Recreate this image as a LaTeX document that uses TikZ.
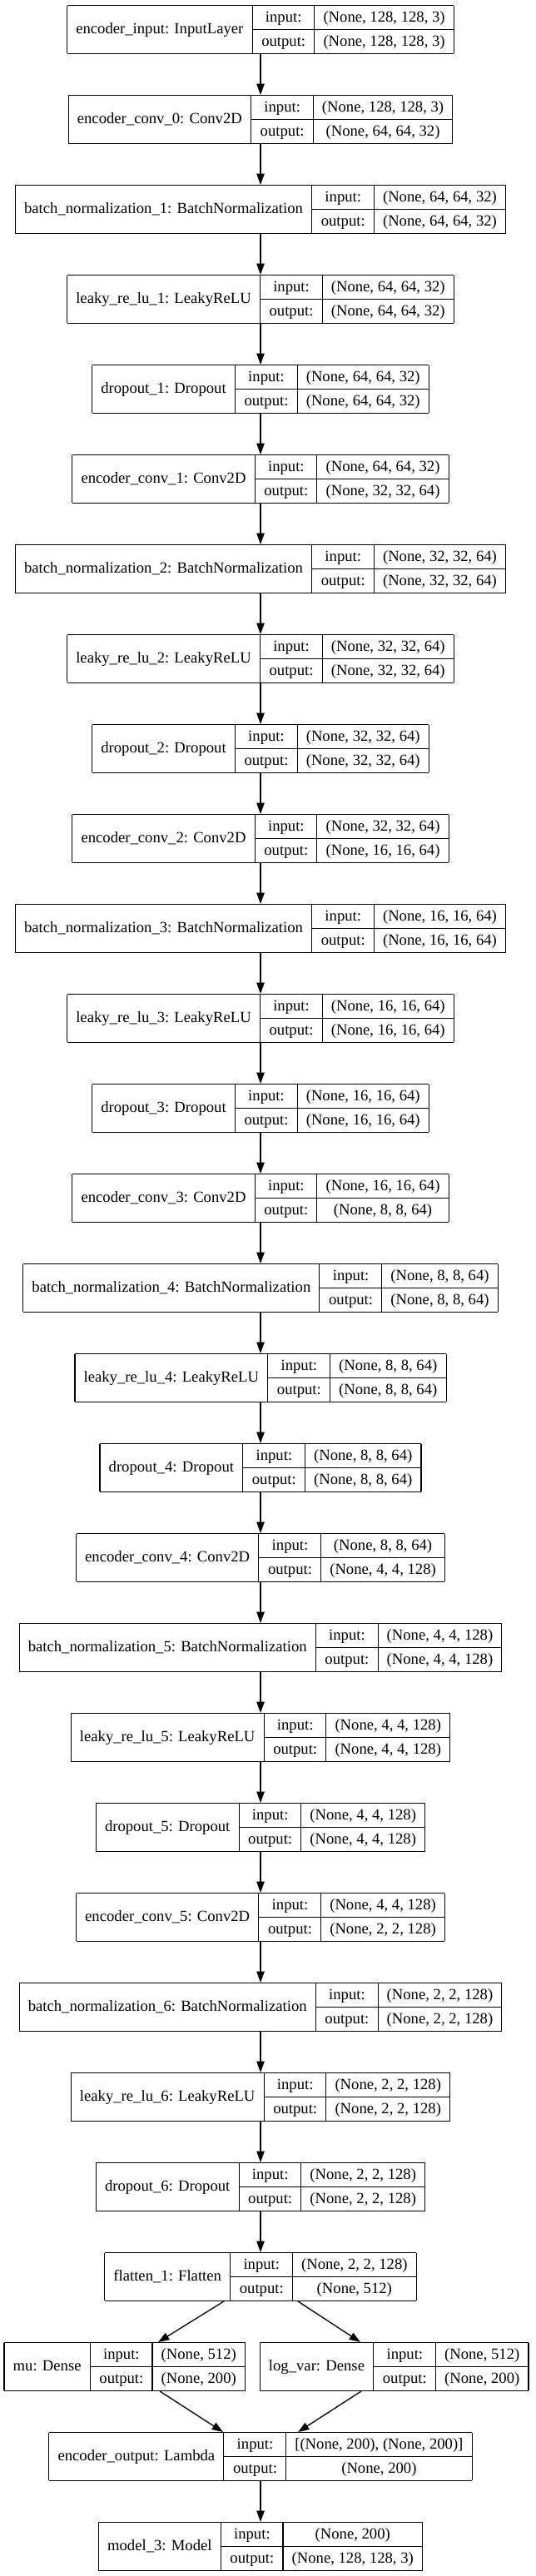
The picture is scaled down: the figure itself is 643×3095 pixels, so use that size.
\documentclass[tikz,border=0pt]{standalone}
\usepackage{fontspec}
\setmainfont{Liberation Serif}
\usetikzlibrary{arrows.meta,calc}
\setlength{\arrayrulewidth}{0.8pt}
\setlength{\tabcolsep}{8pt}
\newcommand{\myrowstrut}{\rule[-6.1pt]{0pt}{20.9pt}}
\newcommand{\recbox}[3]{\begin{tabular}{|c|@{}c@{}|}\hline #1 & \begin{tabular}{c|c}\myrowstrut input: & #2\\\hline\myrowstrut output: & #3\end{tabular}\\\hline\end{tabular}}
\tikzset{
  layer/.style={inner sep=0pt, outer sep=0pt, font=\fontsize{14}{17}\selectfont},
  arr/.style={line width=1pt, -{Triangle[length=10pt,width=7pt]}},
}
\begin{document}
\begin{tikzpicture}[x=0.75pt,y=-0.75pt]
\useasboundingbox[fill=white] (0,0) rectangle (643,3095);
\node[layer,anchor=north] (n0) at (313,6) {\recbox{encoder\_input: InputLayer}{(None, 128, 128, 3)}{(None, 128, 128, 3)}};
\node[layer,anchor=north] (n1) at (313,114) {\recbox{encoder\_conv\_0: Conv2D}{(None, 128, 128, 3)}{(None, 64, 64, 32)}};
\node[layer,anchor=north] (n2) at (313,222) {\recbox{batch\_normalization\_1: BatchNormalization}{(None, 64, 64, 32)}{(None, 64, 64, 32)}};
\node[layer,anchor=north] (n3) at (313,330) {\recbox{leaky\_re\_lu\_1: LeakyReLU}{(None, 64, 64, 32)}{(None, 64, 64, 32)}};
\node[layer,anchor=north] (n4) at (313,438) {\recbox{dropout\_1: Dropout}{(None, 64, 64, 32)}{(None, 64, 64, 32)}};
\node[layer,anchor=north] (n5) at (313,546) {\recbox{encoder\_conv\_1: Conv2D}{(None, 64, 64, 32)}{(None, 32, 32, 64)}};
\node[layer,anchor=north] (n6) at (313,654) {\recbox{batch\_normalization\_2: BatchNormalization}{(None, 32, 32, 64)}{(None, 32, 32, 64)}};
\node[layer,anchor=north] (n7) at (313,762) {\recbox{leaky\_re\_lu\_2: LeakyReLU}{(None, 32, 32, 64)}{(None, 32, 32, 64)}};
\node[layer,anchor=north] (n8) at (313,870) {\recbox{dropout\_2: Dropout}{(None, 32, 32, 64)}{(None, 32, 32, 64)}};
\node[layer,anchor=north] (n9) at (313,978) {\recbox{encoder\_conv\_2: Conv2D}{(None, 32, 32, 64)}{(None, 16, 16, 64)}};
\node[layer,anchor=north] (n10) at (313,1086) {\recbox{batch\_normalization\_3: BatchNormalization}{(None, 16, 16, 64)}{(None, 16, 16, 64)}};
\node[layer,anchor=north] (n11) at (313,1194) {\recbox{leaky\_re\_lu\_3: LeakyReLU}{(None, 16, 16, 64)}{(None, 16, 16, 64)}};
\node[layer,anchor=north] (n12) at (313,1302) {\recbox{dropout\_3: Dropout}{(None, 16, 16, 64)}{(None, 16, 16, 64)}};
\node[layer,anchor=north] (n13) at (313,1410) {\recbox{encoder\_conv\_3: Conv2D}{(None, 16, 16, 64)}{(None, 8, 8, 64)}};
\node[layer,anchor=north] (n14) at (313,1518) {\recbox{batch\_normalization\_4: BatchNormalization}{(None, 8, 8, 64)}{(None, 8, 8, 64)}};
\node[layer,anchor=north] (n15) at (313,1626) {\recbox{leaky\_re\_lu\_4: LeakyReLU}{(None, 8, 8, 64)}{(None, 8, 8, 64)}};
\node[layer,anchor=north] (n16) at (313,1734) {\recbox{dropout\_4: Dropout}{(None, 8, 8, 64)}{(None, 8, 8, 64)}};
\node[layer,anchor=north] (n17) at (313,1842) {\recbox{encoder\_conv\_4: Conv2D}{(None, 8, 8, 64)}{(None, 4, 4, 128)}};
\node[layer,anchor=north] (n18) at (313,1950) {\recbox{batch\_normalization\_5: BatchNormalization}{(None, 4, 4, 128)}{(None, 4, 4, 128)}};
\node[layer,anchor=north] (n19) at (313,2058) {\recbox{leaky\_re\_lu\_5: LeakyReLU}{(None, 4, 4, 128)}{(None, 4, 4, 128)}};
\node[layer,anchor=north] (n20) at (313,2166) {\recbox{dropout\_5: Dropout}{(None, 4, 4, 128)}{(None, 4, 4, 128)}};
\node[layer,anchor=north] (n21) at (313,2274) {\recbox{encoder\_conv\_5: Conv2D}{(None, 4, 4, 128)}{(None, 2, 2, 128)}};
\node[layer,anchor=north] (n22) at (313,2382) {\recbox{batch\_normalization\_6: BatchNormalization}{(None, 2, 2, 128)}{(None, 2, 2, 128)}};
\node[layer,anchor=north] (n23) at (313,2490) {\recbox{leaky\_re\_lu\_6: LeakyReLU}{(None, 2, 2, 128)}{(None, 2, 2, 128)}};
\node[layer,anchor=north] (n24) at (313,2598) {\recbox{dropout\_6: Dropout}{(None, 2, 2, 128)}{(None, 2, 2, 128)}};
\node[layer,anchor=north] (n25) at (313,2706) {\recbox{flatten\_1: Flatten}{(None, 2, 2, 128)}{(None, 512)}};
\node[layer,anchor=north west] (mu) at (5,2814) {\recbox{mu: Dense}{(None, 512)}{(None, 200)}};
\node[layer,anchor=north east] (logvar) at (635,2814) {\recbox{log\_var: Dense}{(None, 512)}{(None, 200)}};
\node[layer,anchor=north] (n27) at (313,2922) {\recbox{encoder\_output: Lambda}{[(None, 200), (None, 200)]}{(None, 200)}};
\node[layer,anchor=north] (n28) at (313,3030) {\recbox{model\_3: Model}{(None, 200)}{(None, 128, 128, 3)}};
\foreach \i [evaluate=\i as \j using int(\i+1)] in {0,...,24} {
  \draw[arr] (n\i.south) -- (n\j.north);
}
\draw[arr] ($(n25.south)+(-44,0)$) -- ($(mu.north west)+(185,0)$);
\draw[arr] ($(n25.south)+(45,0)$) -- ($(logvar.north east)+(-202,0)$);
\draw[arr] ($(mu.south west)+(187,0)$) -- ($(n27.north)+(-45,0)$);
\draw[arr] ($(logvar.south east)+(-201,0)$) -- ($(n27.north)+(45,0)$);
\draw[arr] (n27.south) -- (n28.north);
\end{tikzpicture}
\end{document}
